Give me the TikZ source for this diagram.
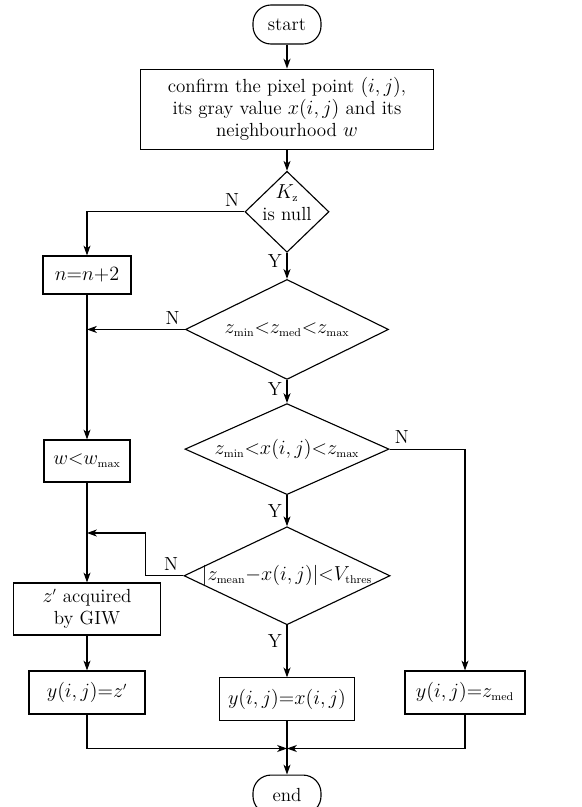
\documentclass[tikz,border=0pt]{standalone}
\usepackage{amsmath}
\usepackage{tikz}
\usetikzlibrary{arrows,arrows.meta,positioning,shapes.geometric}
\DeclareMathSizes{13.5}{13.5}{8}{6}

\begin{document}
\begin{tikzpicture}[->, >={Stealth[length=7pt,width=5pt,inset=2pt]}, line width=0.8pt, x=0.025cm, y=-0.025cm, font=\fontsize{13.5}{15.5}\selectfont]
\tikzstyle{terminal}=[draw, rectangle, rounded corners=0.45cm, minimum width=1.7cm, minimum height=0.975cm, inner sep=0pt]
\tikzstyle{process}=[draw, rectangle, align=center, inner sep=2pt, minimum height=1.075cm]
\tikzstyle{decision}=[draw, diamond, align=center, inner sep=0pt]
\useasboundingbox (0,0) rectangle (582,807);

% main column
\node[terminal] (start) at (287,24.5) {start};
\node[process, minimum width=7.325cm, minimum height=2cm, below=0.6cm of start] (pix)
  {confirm the pixel point $(i,j)$,\\its gray value $x(i,j)$ and its\\neighbourhood $w$};
\node[decision, inner sep=-3pt, text height=20pt, text depth=8pt, minimum width=2.1cm, minimum height=2.025cm, below=0.525cm of pix] (null)
  {$K_{\mathrm{z}}$\\is null};
\node[decision, minimum width=5.075cm, minimum height=2.5cm, shape aspect=2, below=0.65cm of null] (med)
  {$z_{\mathrm{min}}{<}z_{\mathrm{med}}{<}z_{\mathrm{max}}$};
\node[decision, minimum width=5.1cm, minimum height=2.275cm, shape aspect=2.2, below=0.575cm of med] (range)
  {$z_{\mathrm{min}}{<}x(i,j){<}z_{\mathrm{max}}$};
\node[decision, inner sep=-2pt, minimum width=5.15cm, minimum height=2.45cm, shape aspect=2.3, below=0.775cm of range] (mean)
  {$|z_{\mathrm{mean}}{-}x(i,j)|{<}V_{\mathrm{thres}}$};
\node[process, minimum width=3.375cm, below=1.3cm of mean] (keep) {$y(i,j){=}x(i,j)$};
\node[terminal, below=1.325cm of keep] (end) {end};

% side columns
\node[process, minimum width=2.2cm, minimum height=0.95cm] (grow) at (87,275) {$n{=}n{+}2$};
\node[process, minimum width=2.15cm, minimum height=1.05cm] (wmax) at (87,461) {$w{<}w_{\mathrm{max}}$};
\node[process, minimum width=3.675cm, minimum height=1.3cm] (giw) at (87,609) {$z'$ acquired\\by GIW};
\node[process, minimum width=2.9cm] (setz) at (87,692.5) {$y(i,j){=}z'$};
\node[process, minimum width=3cm] (setmed) at (465,692.5) {$y(i,j){=}z_{\mathrm{med}}$};

\path
(start) edge (pix)
(pix)   edge (null)
(null)  edge node[left, pos=0.3]{Y} (med)
(med)   edge node[left, pos=0.4]{Y} (range)
(range) edge node[left, pos=0.5]{Y} (mean)
(mean)  edge node[left, pos=0.3]{Y} (keep)
(keep)  edge (end)
(grow)  edge (wmax)
(wmax)  edge (giw)
(giw)   edge (setz);

\draw (null.west) node[above left]{N} -| (grow.north);
\draw (med.west) node[above left]{N} -- (med.west -| grow.south);
\draw (range.east) node[above right]{N} -| (setmed.north);
\coordinate (back) at (87,533);
\draw (mean.west) node[above left]{N} -- ++(-38,0) |- (back);
\path (keep.south) ++(0,27) coordinate (join);
\draw (setz.south) |- (join);
\draw (setmed.south) |- (join);
\end{tikzpicture}
\end{document}
